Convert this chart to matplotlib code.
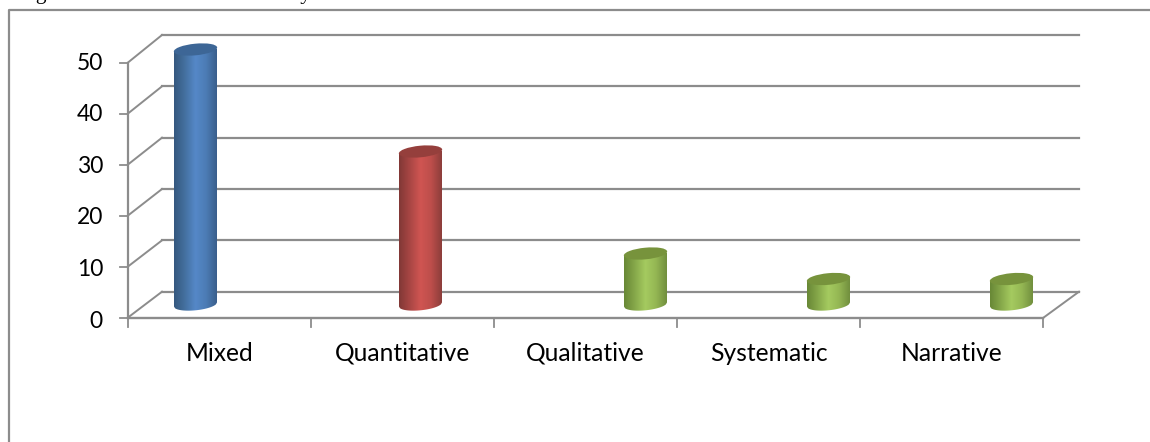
import numpy as np
import matplotlib
matplotlib.use("Agg")
import matplotlib.pyplot as plt
from matplotlib.colors import LinearSegmentedColormap
from matplotlib.patches import Ellipse, PathPatch
from matplotlib.path import Path

categories = ["Mixed", "Quantitative", "Qualitative", "Systematic", "Narrative"]
values = [50, 30, 10, 5, 5]
series = [0, 1, 2, 2, 2]
y_ticks = [0, 10, 20, 30, 40, 50]
caption = "Figure 2: Research methods study"

# shading across each series: edge, mid, highlight, mid, edge
body_colors = [["#35587f", "#44709f", "#5588c8", "#4c7cb5", "#3a5f8c"],
               ["#813836", "#a84644", "#d05552", "#bd4e4b", "#8c3e3b"],
               ["#688836", "#86a84a", "#a5cb60", "#94b653", "#718f3e"]]
lid_colors = ["#3d6696", "#953f3c", "#77933c"]
series_offset = [-24, 18, 60]

GREY = "#8c8c8c"
W, H = 1150, 442

plt.rcParams["font.family"] = ["Lato", "DejaVu Sans"]

fig = plt.figure(figsize=(W / 100, H / 100), dpi=100)
# whole-figure axes in pixel coordinates, y pointing down
ax = fig.add_axes([0, 0, 1, 1])
ax.set_xlim(0, W)
ax.set_ylim(H, 0)
ax.axis("off")

# frame around the chart
ax.plot([9, 9, W], [H, 10, 10], color=GREY, lw=1.6, solid_capstyle="butt")
ax.text(18, -1, caption, family="Liberation Serif", fontsize=15.5, va="baseline", ha="left", color="black")

x0, x1 = 128, 1043
y0, unit = 317.5, 5.1
back_x, back_right = 162, 1079
back_y0, back_unit = 291.7, 5.134


def val_y(v):
    return y0 - v * unit


# back wall gridlines and the side wall connectors
for t in y_ticks:
    y = val_y(t)
    by = back_y0 - t * back_unit
    ax.plot([back_x, back_right], [by, by], color=GREY, lw=1.6, zorder=1)
    ax.plot([x0, back_x], [y, by], color=GREY, lw=1.4, zorder=1)
    ax.plot([x0 - 8, x0], [y, y], color=GREY, lw=1.3, zorder=1)
    ax.text(103, y + 3.5 - t * 0.06, str(t), fontsize=16.5, ha="right", va="center", color="black")

# axes and floor
ax.plot([x0, x0], [val_y(50), y0 + 0.5], color=GREY, lw=1.6, zorder=1)
ax.plot([x0, x1], [y0 + 0.5, y0 + 0.5], color=GREY, lw=1.7, zorder=2)
ax.plot([x1, back_right], [y0 + 0.5, back_y0], color=GREY, lw=1.4, zorder=1)

slot = (x1 - x0) / len(categories)
for i, name in enumerate(categories):
    tick_x = x0 + i * slot
    ax.plot([tick_x, tick_x], [y0, y0 + 9], color=GREY, lw=1.3, zorder=1)
    ax.text(tick_x + slot / 2, 353.5, name, fontsize=17.7, ha="center", va="center", color="black")
ax.plot([x1, x1], [y0, y0 + 9], color=GREY, lw=1.3, zorder=1)

# cylinders
half = 21.5
semi_b = 5.8
tilt = np.deg2rad(5.5)
depth = 13
for i, v in enumerate(values):
    s = series[i]
    cx = x0 + (i + 0.5) * slot + series_offset[s]
    top = val_y(v) - depth
    base = y0 - depth
    left, right = cx - half, cx + half
    cmap = LinearSegmentedColormap.from_list("body", body_colors[s])
    grad = np.linspace(0, 1, 128).reshape(1, -1)
    im = ax.imshow(grad, cmap=cmap, extent=(left, right, base + 8, top), aspect="auto", zorder=3)
    # silhouette: upper arc of the lid and lower arc of the base, clips the gradient
    u = np.linspace(-1, 1, 40)
    base_arc = np.column_stack([cx + half * u[::-1], base - np.tan(tilt) * half * u[::-1] + semi_b * np.sqrt(1 - u ** 2)])
    top_arc = np.column_stack([cx + half * u, top - np.tan(tilt) * half * u])
    verts = np.vstack([base_arc, top_arc, base_arc[:1]])
    clip = PathPatch(Path(verts, closed=True), transform=ax.transData, fc="none", ec="none")
    ax.add_patch(clip)
    im.set_clip_path(clip)
    lid = Ellipse((cx, top), 2 * half + 0.5, 2 * semi_b, angle=-5.5, fc=lid_colors[s], ec="none", zorder=4)
    ax.add_patch(lid)

ax.set_xlim(0, W)
ax.set_ylim(H, 0)
fig.savefig("out.png", dpi=100)
